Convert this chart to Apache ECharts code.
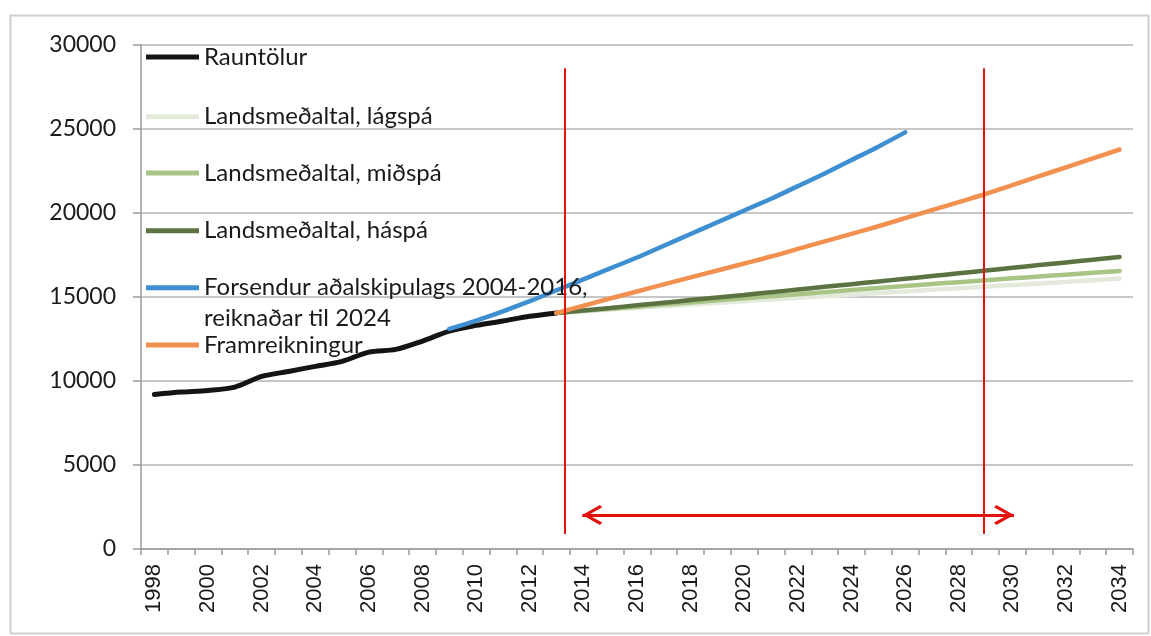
<!DOCTYPE html>
<html><head><meta charset="utf-8">
<script src="https://cdn.jsdelivr.net/npm/echarts@6/dist/echarts.min.js"></script>
<style>html,body{margin:0;padding:0;background:#fff}#c{width:1151px;height:636px}</style>
</head><body><div id="c"></div>
<script>
// ---- categories ----
const years = ['1998','1999','2000','2001','2002','2003','2004','2005','2006','2007','2008','2009','2010','2011','2012','2013','2014','2015','2016','2017','2018','2019','2020','2021','2022','2023','2024','2025','2026','2027','2028','2029','2030','2031','2032','2033','2034'];

// ---- series values (start year + yearly values) ----
const rauntolurStart = '1998';
const rauntolur = [9200,9340,9440,9640,10270,10570,10870,11170,11720,11880,12380,12970,13310,13570,13850,14050];

const lagspaStart = '2013';
const lagspa = [14050,14150,14250,14350,14450,14550,14650,14750,14850,14950,15045,15140,15235,15330,15425,15520,15615,15710,15805,15900,16000,16100];

const midspaStart = '2013';
const midspa = [14050,14175,14300,14425,14550,14675,14800,14925,15050,15170,15290,15410,15530,15650,15770,15885,16000,16110,16220,16330,16440,16550];

const haspaStart = '2013';
const haspa = [14050,14200,14350,14505,14660,14815,14970,15125,15285,15445,15605,15765,15925,16085,16245,16410,16575,16740,16900,17060,17220,17380];

const forsendurStart = '2009';
const forsendur = [13100,13600,14150,14750,15400,16050,16700,17350,18050,18750,19450,20150,20850,21600,22350,23150,23950,24800];

const framStart = '2013';
const framreikningur = [14050,14480,14910,15330,15750,16165,16580,16995,17410,17860,18310,18760,19210,19690,20170,20650,21130,21660,22190,22720,23250,23780];

// ---- annotations (x in category-index units, y in values) ----
const markerX = [15.29, 30.94];
const markerY = [900, 28610];
const arrowTipX = [15.96, 32.06];
const arrowHeadX = [16.33, 31.69];
const arrowY = 2030;

// ---- names / ticks ----
const names = ['Rauntölur','Landsmeðaltal, lágspá','Landsmeðaltal, miðspá','Landsmeðaltal, háspá','Forsendur aðalskipulags 2004-2016, reiknaðar til 2024','Framreikningur'];
const yTicks = {min:0, max:30000, interval:5000};

function pairs(start, vals){
  const s = years.indexOf(start);
  return vals.map((v,i)=>[years[s+i], v]);
}

const colors = ['#141414','#e4eadb','#a8c585','#5b7341','#3d8fd1','#f2904f'];
const widths = [5,4.5,4.5,4.5,4.5,4.5];
const datasets = [
  pairs(rauntolurStart, rauntolur),
  pairs(lagspaStart, lagspa),
  pairs(midspaStart, midspa),
  pairs(haspaStart, haspa),
  pairs(forsendurStart, forsendur),
  pairs(framStart, framreikningur)
];

const series = datasets.map((d,i)=>({
  name: names[i], type:'line', data:d, showSymbol:false, symbol:'none',
  smooth: 0.3, color: colors[i],
  lineStyle:{width:widths[i], color:colors[i], cap:'round'},
  animation:false, silent:true
}));

const chevron = 'path://M10,0 L20,16.5 L17.6,18.6 L10,5.8 L2.4,18.6 L0,16.5 Z';
series.push({
  type:'line', xAxisIndex:1, yAxisIndex:0, data:[], silent:true, animation:false,
  markLine:{
    silent:true, animation:false, symbol:['none','none'],
    label:{show:false}, emphasis:{disabled:true},
    lineStyle:{color:'#e3120b', width:2, type:'solid'},
    data:[
      [{coord:[markerX[0], markerY[0]]},{coord:[markerX[0], markerY[1]]}],
      [{coord:[markerX[1], markerY[0]]},{coord:[markerX[1], markerY[1]]}],
      [{coord:[arrowTipX[0], arrowY], lineStyle:{width:3}},{coord:[arrowTipX[1], arrowY]}],
      [{coord:[arrowHeadX[0], arrowY], symbol:chevron, symbolSize:20, lineStyle:{width:3}},
       {coord:[arrowHeadX[1], arrowY], symbol:chevron, symbolSize:20}]
    ]
  }
});

const legendCenters = [57, 116.7, 173, 230.7, 287.7, 345];
const legTextBase = {fontFamily:'Lato', fontSize:24, color:'#1a1a1a', lineHeight:28};
const legends = names.map((n,i)=>{
  const two = i===4;
  const lh = two ? 31 : 28;
  return {
    data:[n], orient:'vertical', left:146,
    top: two ? legendCenters[i] - 1.5*lh : legendCenters[i] - lh/2,
    padding:0, itemWidth:53, itemHeight:5, icon:'rect', selectedMode:false,
    textStyle:Object.assign({}, legTextBase, {lineHeight:lh}),
    formatter: two ? (()=>' \nForsendur aðalskipulags 2004-2016,\nreiknaðar til 2024') : undefined
  };
});

const option = {
  backgroundColor:'#ffffff',
  animation:false,
  grid:{left:141, right:18, top:45, bottom:87, containLabel:false},
  graphic:[{type:'rect', left:8, top:13, shape:{width:1138, height:618}, style:{fill:'none', stroke:'#cfcfcf', lineWidth:2}, silent:true, z:-1}],
  legend: legends,
  xAxis:[{
    type:'category', data:years, boundaryGap:true,
    axisLine:{onZero:false, lineStyle:{color:'#9a9a9a', width:1.5}},
    axisTick:{show:true, interval:0, length:6, lineStyle:{color:'#9a9a9a', width:1.5}},
    axisLabel:{interval:1, rotate:90, margin:15, fontFamily:'Liberation Sans', fontSize:22, color:'#1a1a1a'},
    splitLine:{show:false}
  },{
    type:'value', min:-0.5, max:36.5, show:false
  }],
  yAxis:{
    type:'value', min:yTicks.min, max:yTicks.max, interval:yTicks.interval,
    axisLine:{show:true, onZero:false, lineStyle:{color:'#9a9a9a', width:1.5}},
    axisTick:{show:true, length:8, lineStyle:{color:'#9a9a9a', width:1.5}},
    axisLabel:{margin:25, fontFamily:'Lato', fontSize:23, color:'#1a1a1a', formatter:(v)=>String(v)},
    splitLine:{show:true, lineStyle:{color:'#b4b4b4', width:1.5}}
  },
  series: series
};
const chart = echarts.init(document.getElementById('c'));
chart.setOption(option);
</script>
</body></html>
